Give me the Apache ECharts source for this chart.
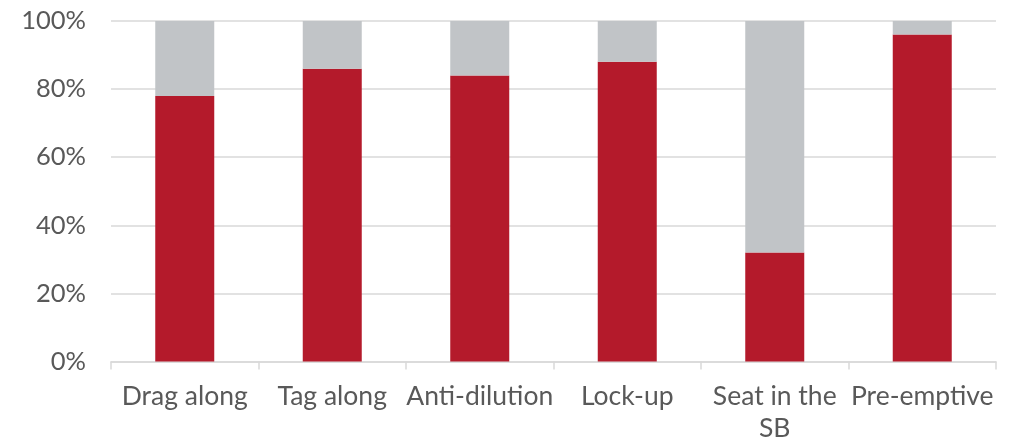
<!DOCTYPE html>
<html>
<head>
<meta charset="utf-8">
<script src="https://cdn.jsdelivr.net/npm/echarts@6/dist/echarts.min.js"></script>
<style>
  html, body { margin: 0; padding: 0; background: #fff; }
  #chart { width: 1016px; height: 440px; }
</style>
</head>
<body>
<div id="chart"></div>
<script>
// Share of deals including each clause (percent)
const categories = ['Drag along', 'Tag along', 'Anti-dilution', 'Lock-up', 'Seat in the\nSB', 'Pre-emptive'];
const included = [78, 86, 84, 88, 32, 96];
const notIncluded = included.map(v => 100 - v);
const yTicks = [0, 20, 40, 60, 80, 100];

const chart = echarts.init(document.getElementById('chart'), null, { renderer: 'canvas' });
const font = 'Lato, "Open Sans", sans-serif';

chart.setOption({
  animation: false,
  grid: {
    left: 111, right: 20, top: 21, bottom: 78.5,
    containLabel: false, outerBoundsMode: 'none'
  },
  xAxis: {
    type: 'category',
    data: categories,
    axisLine: { lineStyle: { color: '#d9d9d9', width: 1.5 } },
    axisTick: { show: true, length: 8, lineStyle: { color: '#d9d9d9', width: 1.5 } },
    axisLabel: {
      color: '#595959', fontFamily: font, fontSize: 26.5, margin: 19, lineHeight: 32,
      interval: 0
    }
  },
  yAxis: {
    type: 'value',
    min: yTicks[0],
    max: yTicks[yTicks.length - 1],
    interval: 20,
    axisLine: { show: false },
    axisTick: { show: false },
    splitLine: { lineStyle: { color: '#d9d9d9', width: 1.5 } },
    axisLabel: {
      color: '#595959', fontFamily: font, fontSize: 25.5, margin: 25,
      formatter: v => v + '%'
    }
  },
  series: [
    {
      name: 'Included', type: 'bar', stack: 'total', barWidth: '40%',
      data: included, itemStyle: { color: '#B41A2B' }
    },
    {
      name: 'Not included', type: 'bar', stack: 'total', barWidth: '40%',
      data: notIncluded, itemStyle: { color: '#C1C4C7' }
    }
  ]
});
</script>
</body>
</html>
